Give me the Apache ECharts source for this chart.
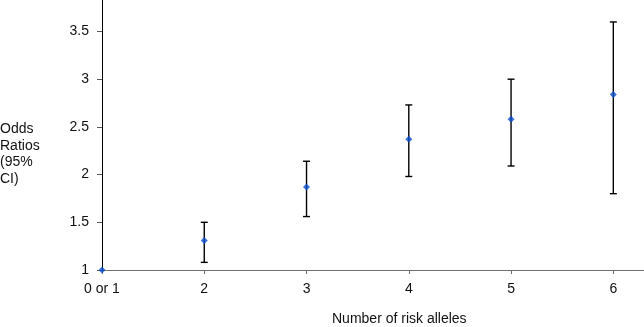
<!DOCTYPE html>
<html>
<head>
<meta charset="utf-8">
<script src="https://cdn.jsdelivr.net/npm/echarts@6/dist/echarts.min.js"></script>
<style>html,body{margin:0;padding:0;background:#fff}#c{width:644px;height:327px}</style>
</head>
<body>
<div id="c"></div>
<script>
var categories = ['0 or 1', '2', '3', '4', '5', '6'];
var oddsRatios = [1.0, 1.31, 1.87, 2.37, 2.58, 2.84];
var ciLower = [null, 1.08, 1.56, 1.98, 2.09, 1.80];
var ciUpper = [null, 1.50, 2.14, 2.73, 3.00, 3.60];
var yTicks = [1, 1.5, 2, 2.5, 3, 3.5];

var FONT = '"Liberation Sans", Arial, sans-serif';
var chart = echarts.init(document.getElementById('c'), null, {renderer: 'canvas'});

var pointData = oddsRatios.map(function (v, i) { return [i, v]; });
var ciData = [];
for (var i = 0; i < categories.length; i++) {
  if (ciLower[i] != null) ciData.push([i, ciLower[i], ciUpper[i]]);
}

chart.setOption({
  animation: false,
  grid: {left: 102, right: 0, top: 0, bottom: 57, containLabel: false},
  xAxis: {
    type: 'value', min: 0, max: 5.3, interval: 1,
    splitLine: {show: false},
    axisLine: {show: true, lineStyle: {color: '#707070', width: 1}},
    axisTick: {show: true, length: 4, lineStyle: {color: '#707070'}},
    axisLabel: {
      margin: 12, color: '#111', fontFamily: FONT, fontSize: 14,
      showMaxLabel: false,
      formatter: function (v) {
        var k = Math.round(v);
        return Math.abs(v - k) < 1e-6 && categories[k] != null ? categories[k] : '';
      }
    }
  },
  yAxis: {
    type: 'value', min: 1, max: 3.83, interval: 0.5,
    splitLine: {show: false},
    axisLine: {show: true, lineStyle: {color: '#000', width: 1}},
    axisTick: {show: true, length: 5, lineStyle: {color: '#555'}},
    axisLabel: {
      margin: 13, color: '#111', fontFamily: FONT, fontSize: 14,
      showMaxLabel: false,
      formatter: function (v) {
        for (var j = 0; j < yTicks.length; j++) if (Math.abs(v - yTicks[j]) < 1e-6) return String(yTicks[j]);
        return '';
      }
    }
  },
  graphic: [
    {type: 'text', left: 0, top: 121, style: {text: 'Odds\nRatios\n(95%\nCI)', fill: '#111', font: '14px ' + FONT, lineHeight: 16.5}},
    {type: 'text', left: 332, top: 312, style: {text: 'Number of risk alleles', fill: '#111', font: '14px ' + FONT}}
  ],
  series: [
    {
      type: 'custom',
      data: ciData,
      z: 2,
      renderItem: function (params, api) {
        var x = api.value(0);
        var lo = api.coord([x, api.value(1)]);
        var hi = api.coord([x, api.value(2)]);
        var w = 3.5;
        var st = {stroke: '#000', lineWidth: 1.4};
        return {
          type: 'group',
          children: [
            {type: 'line', shape: {x1: lo[0], y1: lo[1], x2: hi[0], y2: hi[1]}, style: st},
            {type: 'line', shape: {x1: lo[0] - w, y1: lo[1], x2: lo[0] + w, y2: lo[1]}, style: st},
            {type: 'line', shape: {x1: hi[0] - w, y1: hi[1], x2: hi[0] + w, y2: hi[1]}, style: st}
          ]
        };
      }
    },
    {
      type: 'scatter',
      data: pointData,
      symbol: 'diamond',
      symbolSize: 7,
      z: 3,
      itemStyle: {color: '#0a4fd0'}
    }
  ]
});
</script>
</body>
</html>
